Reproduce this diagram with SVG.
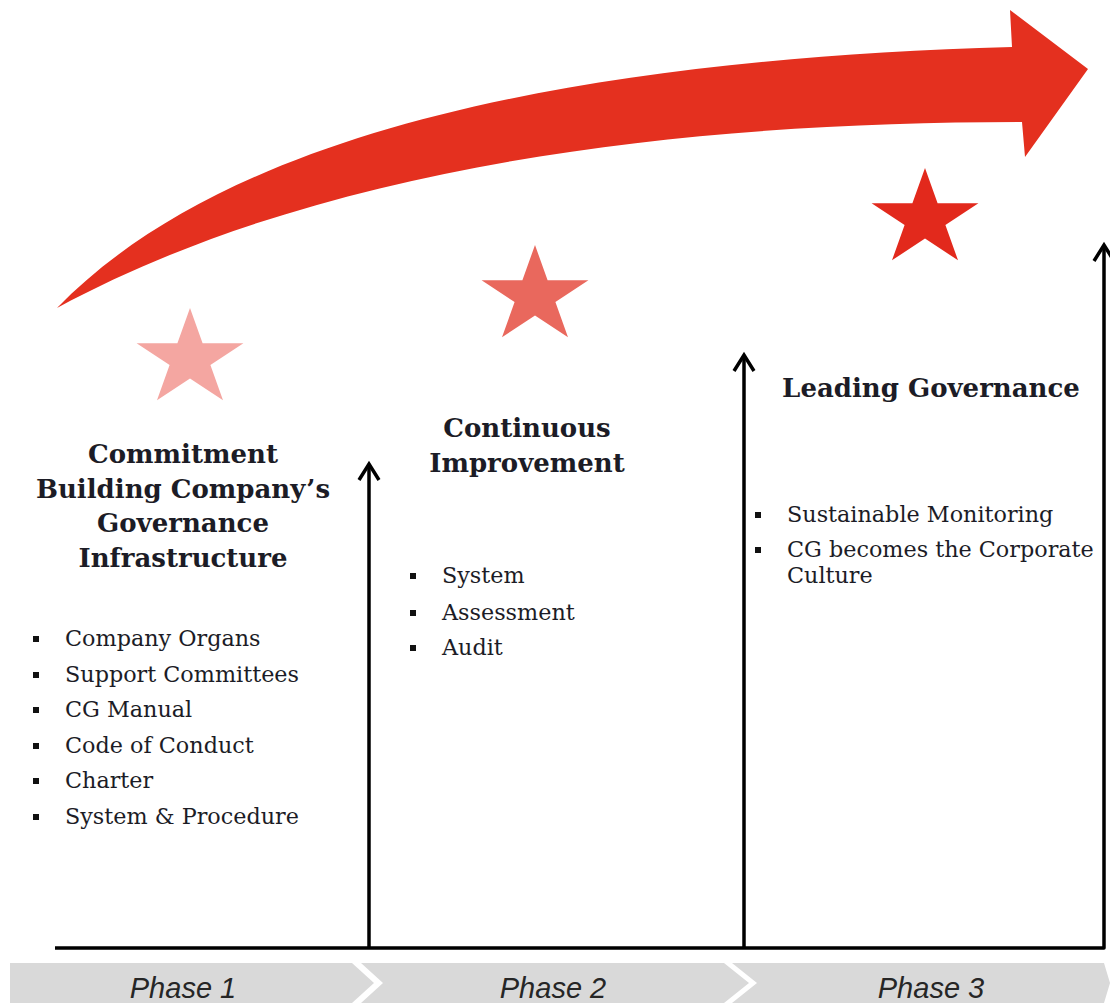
<svg xmlns="http://www.w3.org/2000/svg" width="1110" height="1003" viewBox="0 0 1110 1003">
<style>
.h{font-family:"DejaVu Serif",serif;font-weight:bold;font-size:26px;fill:#1c1c26;text-anchor:middle}
.b{font-family:"DejaVu Serif",serif;font-size:22.3px;fill:#1c1c26}
.ph{font-family:"Liberation Sans",Arial,sans-serif;font-style:italic;font-size:29px;fill:#262626;text-anchor:middle}
.seg{fill:#d9d9d9}
.ax{fill:none;stroke:#000;stroke-width:3.5;stroke-linejoin:round}
.sq{fill:#111}
</style>
<defs>
<marker id="ah" markerUnits="userSpaceOnUse" viewBox="-20 -14 24 28" markerWidth="24" markerHeight="28" refX="0" refY="0" orient="auto">
<path d="M-16,-10 L0,0 L-16,10" fill="none" stroke="#000" stroke-width="3.5" stroke-linejoin="miter"/>
</marker>
<path id="star" d="M0,-51 L12.6,-15.8 L53.4,-15.8 L20.4,6 L33,41.3 L0,19.5 L-33,41.3 L-20.4,6 L-53.4,-15.8 L-12.6,-15.8 Z"/>
</defs>
<rect width="1110" height="1003" fill="#fff"/>

<g id="progress-arrow">
<path d="M57,308 C220,140 550,60 1012,47 L1010,10 L1088,69 L1025,157 L1022,122 C700,122 330,160 57,308 Z" fill="#e4301f"/>
</g>

<g id="stars">
<use href="#star" x="190" y="359" fill="#f4a6a1"/>
<use href="#star" x="535" y="296" fill="#e9685d"/>
<use href="#star" x="925" y="219" fill="#e2291c"/>
</g>

<g id="connectors">
<path class="ax" d="M55,948 H1104 V245" marker-end="url(#ah)"/>
<path class="ax" d="M369,948 V464" marker-end="url(#ah)"/>
<path class="ax" d="M744,948 V355" marker-end="url(#ah)"/>
</g>

<g id="phase1">
<text class="h" x="183" y="463">Commitment</text>
<text class="h" x="183" y="498">Building Company’s</text>
<text class="h" x="183" y="532">Governance</text>
<text class="h" x="183" y="567">Infrastructure</text>
<rect class="sq" x="33" y="636" width="6" height="6"/><text class="b" x="65" y="646">Company Organs</text>
<rect class="sq" x="33" y="672" width="6" height="6"/><text class="b" x="65" y="682">Support Committees</text>
<rect class="sq" x="33" y="707" width="6" height="6"/><text class="b" x="65" y="717">CG Manual</text>
<rect class="sq" x="33" y="743" width="6" height="6"/><text class="b" x="65" y="753">Code of Conduct</text>
<rect class="sq" x="33" y="778" width="6" height="6"/><text class="b" x="65" y="788">Charter</text>
<rect class="sq" x="33" y="814" width="6" height="6"/><text class="b" x="65" y="824">System &amp; Procedure</text>
</g>

<g id="phase2">
<text class="h" x="527" y="437">Continuous</text>
<text class="h" x="527" y="472">Improvement</text>
<rect class="sq" x="410" y="573" width="6" height="6"/><text class="b" x="442" y="583">System</text>
<rect class="sq" x="410" y="610" width="6" height="6"/><text class="b" x="442" y="620">Assessment</text>
<rect class="sq" x="410" y="645" width="6" height="6"/><text class="b" x="442" y="655">Audit</text>
</g>

<g id="phase3">
<text class="h" x="931" y="397">Leading Governance</text>
<rect class="sq" x="755" y="512" width="6" height="6"/><text class="b" x="787" y="522">Sustainable Monitoring</text>
<rect class="sq" x="755" y="547" width="6" height="6"/><text class="b" x="787" y="557">CG becomes the Corporate</text>
<text class="b" x="787" y="583">Culture</text>
</g>

<g id="phase-band">
<path class="seg" d="M10,963 L352,963 L374,983 L352,1003 L10,1003 Z"/>
<path class="seg" d="M361,963 L724,963 L749,983 L724,1003 L361,1003 L383,983 Z"/>
<path class="seg" d="M732,963 L1104,963 L1110,983 L1104,1003 L732,1003 L757,983 Z"/>
<text class="ph" x="183" y="998">Phase 1</text>
<text class="ph" x="553" y="998">Phase 2</text>
<text class="ph" x="931" y="998">Phase 3</text>
</g>
</svg>
